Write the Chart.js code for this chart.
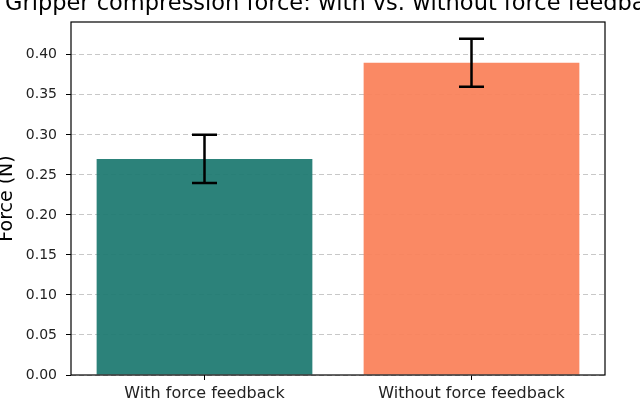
<!DOCTYPE html>
<html>
<head>
<meta charset="utf-8">
<script src="https://cdn.jsdelivr.net/npm/chart.js@4/dist/chart.umd.min.js"></script>
<style>
  html, body { margin: 0; padding: 0; background: #fff; overflow: hidden; }
  #wrap { width: 640px; height: 399px; position: relative; }
</style>
</head>
<body>
<div id="wrap"><canvas id="chart" width="640" height="399"></canvas></div>
<script>
// ---- data ----
const categories = ['With force feedback', 'Without force feedback'];
const meanForce = [0.27, 0.39];
const errForce = [0.03, 0.03];
const yTicks = [0.00, 0.05, 0.10, 0.15, 0.20, 0.25, 0.30, 0.35, 0.40];
const barColors = ['rgba(33, 123, 115, 0.95)', 'rgba(250, 131, 92, 0.95)'];

const FONT = '"DejaVu Sans", sans-serif';
const TITLE = 'Gripper compression force: with vs. without force feedback';

// error bars, frame, title and y label drawn on top
const extras = {
  id: 'extras',
  afterDatasetsDraw(chart) {
    const ctx = chart.ctx;
    const x = chart.scales.x, y = chart.scales.y;
    const area = chart.chartArea;
    ctx.save();
    ctx.strokeStyle = '#000';
    ctx.lineWidth = 2.5;
    meanForce.forEach((m, i) => {
      const cx = x.getPixelForValue(i);
      const top = y.getPixelForValue(m + errForce[i]);
      const bot = y.getPixelForValue(m - errForce[i]);
      ctx.beginPath();
      ctx.moveTo(cx, top); ctx.lineTo(cx, bot);
      ctx.moveTo(cx - 12.5, top); ctx.lineTo(cx + 12.5, top);
      ctx.moveTo(cx - 12.5, bot); ctx.lineTo(cx + 12.5, bot);
      ctx.stroke();
    });
    // axes frame
    ctx.lineWidth = 1.2;
    ctx.strokeRect(area.left, area.top, area.right - area.left, area.bottom - area.top);
    // title
    ctx.fillStyle = '#000';
    ctx.font = '22.5px ' + FONT;
    ctx.textAlign = 'center';
    ctx.textBaseline = 'alphabetic';
    ctx.fillText(TITLE, (area.left + area.right) / 2, 10);
    // y label
    ctx.translate(12, (area.top + area.bottom) / 2);
    ctx.rotate(-Math.PI / 2);
    ctx.font = '19px ' + FONT;
    ctx.fillText('Force (N)', 0, 0);
    ctx.restore();
  }
};

new Chart(document.getElementById('chart'), {
  type: 'bar',
  data: {
    labels: categories,
    datasets: [{
      data: meanForce,
      backgroundColor: barColors,
      borderWidth: 0,
      categoryPercentage: 1.0,
      barPercentage: 0.808
    }]
  },
  options: {
    responsive: false,
    animation: false,
    devicePixelRatio: 1,
    layout: { padding: { top: 22, right: 35, left: 0, bottom: 0 } },
    plugins: { legend: { display: false }, title: { display: false }, tooltip: { enabled: false } },
    scales: {
      x: {
        offset: true,
        grid: { display: true, drawOnChartArea: false, offset: false, tickLength: 5, tickColor: '#000', tickWidth: 1 },
        border: { display: false },
        ticks: { color: '#222', font: { family: FONT, size: 16 }, padding: 4, maxRotation: 0 },
        afterFit(s) { s.height = 24; }
      },
      y: {
        min: 0,
        max: 0.441,
        grid: { color: 'rgba(176,176,176,0.7)', lineWidth: 1, tickLength: 5, tickColor: '#000', tickWidth: 1 },
        border: { display: false, dash: [5, 3] },
        ticks: {
          color: '#222',
          font: { family: FONT, size: 14 },
          padding: 9,
          callback: v => Number(v).toFixed(2)
        },
        afterBuildTicks(s) { s.ticks = yTicks.map(v => ({ value: v })); },
        afterFit(s) { s.width = 71; }
      }
    }
  },
  plugins: [extras]
});
</script>
</body>
</html>
